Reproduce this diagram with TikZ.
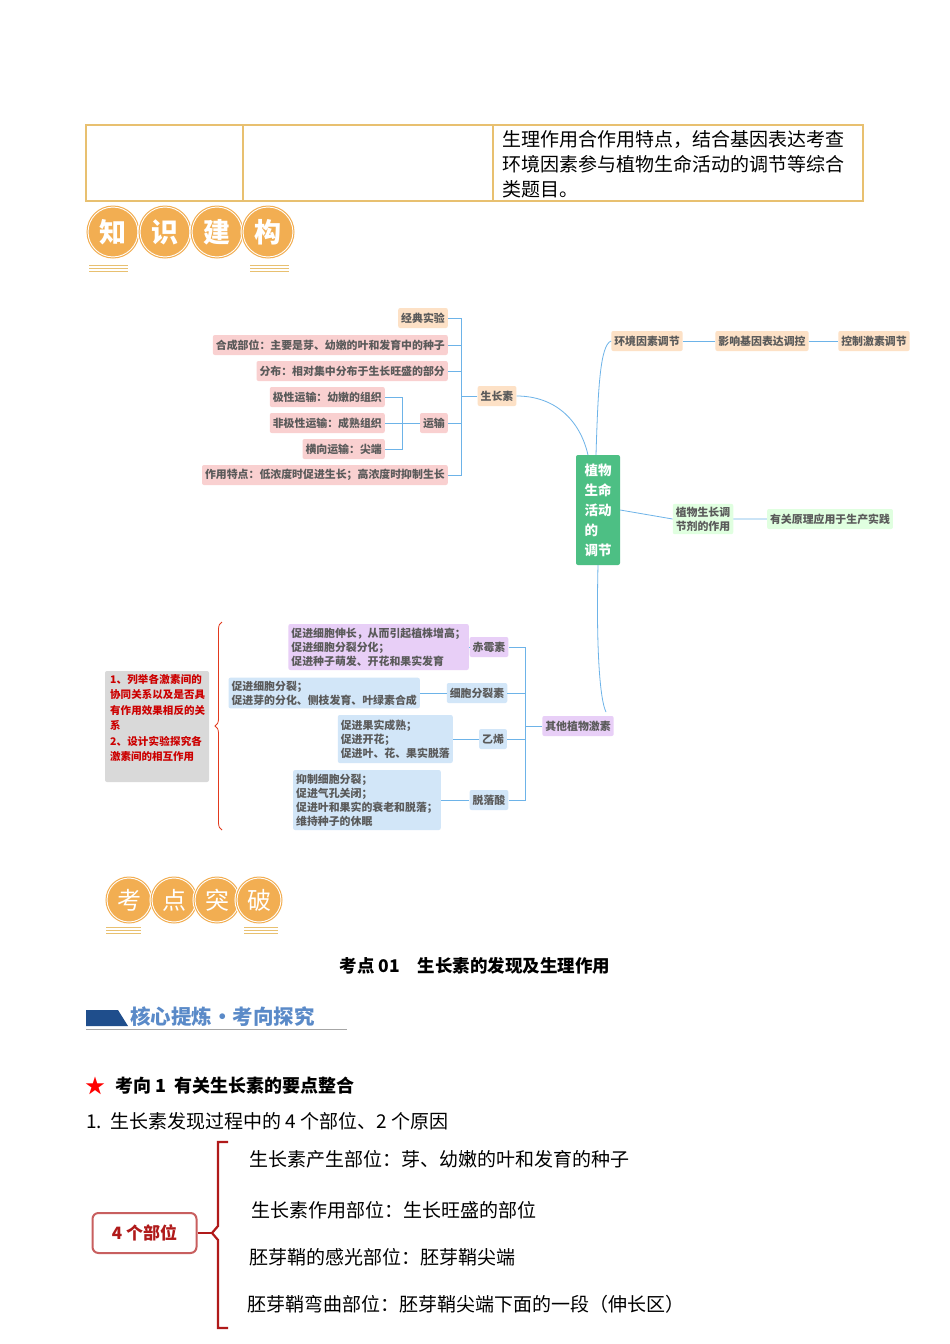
\documentclass[tikz,border=0pt]{standalone}
\usepackage{fontspec}
\setmainfont{Noto Sans CJK SC}
\XeTeXlinebreaklocale "zh"
\XeTeXlinebreakskip=0pt plus 1pt
\usetikzlibrary{decorations.pathreplacing}
\definecolor{peach}{HTML}{FDE1C6}
\definecolor{pinkb}{HTML}{F9D0D0}
\definecolor{greenb}{HTML}{4DBF84}
\definecolor{purp}{HTML}{E8CFF7}
\definecolor{blueb}{HTML}{D2E6F8}
\definecolor{lin}{HTML}{6DB3E8}
\definecolor{ntext}{HTML}{5A5A5A}
\definecolor{gold}{HTML}{E8C070}
\definecolor{orng}{HTML}{F2AE52}
\definecolor{dred}{HTML}{B01A1A}
\definecolor{bannerdk}{HTML}{1F4E8C}
\definecolor{bannertx}{HTML}{5A8AC8}
\tikzset{
 mm/.style={rounded corners=2pt,font=\fontsize{10.9}{14}\selectfont\bfseries,text=ntext,inner sep=3pt,minimum height=20pt},
 pe/.style={mm,fill=peach}, pk/.style={mm,fill=pinkb}, pu/.style={mm,fill=purp}, bl/.style={mm,fill=blueb},
 ln/.style={draw=lin,line width=0.8pt},
 coin/.style={circle,fill=orng,draw=white,double=orng,line width=1pt,double distance=1pt,text=white,inner sep=0pt},
 body/.style={font=\fontsize{19}{22}\selectfont,anchor=west,inner sep=0pt}
}
\begin{document}
\begin{tikzpicture}[x=1pt,y=-1pt]
\useasboundingbox[fill=white] (0,0) rectangle (950,1344);
% table
\draw[gold,line width=1.2pt] (86,125) rectangle (863,201);
\draw[gold,line width=1.2pt] (243,125) -- (243,201) (493,125) -- (493,201);
\node[body] (t1) at (502,140) {生理作用合作用特点，结合基因表达考查};
\node[body] (t2) at (502,164) {环境因素参与植物生命活动的调节等综合};
\node[body] (t3) at (502,189) {类题目。};
% coins 1
\foreach \c/\x [count=\i] in {知/113,识/165,建/217,构/268}{
 \node[coin,minimum size=52pt,font=\fontsize{27}{27}\selectfont\bfseries] (k\i) at (\x,232) {\c};}
\foreach \y in {265,268,271}{\draw[gold,line width=0.8pt] (89,\y) -- (128,\y) (250,\y) -- (289,\y);}
% mind map
\node[mm,fill=greenb,text=white,font=\fontsize{13.5}{20}\selectfont\bfseries,align=left,minimum width=44pt,minimum height=110pt] (root) at (598,510) {植物\\生命\\活动\\的\\调节};
\node[pe] (szs) at (497,396) {生长素};
\node[pe,anchor=east] (a1) at (448,318) {经典实验};
\node[pk,anchor=east] (a2) at (448,345) {合成部位：主要是芽、幼嫩的叶和发育中的种子};
\node[pk,anchor=east] (a3) at (448,371) {分布：相对集中分布于生长旺盛的部分};
\node[pk,anchor=east] (ys) at (448,423) {运输};
\node[pk,anchor=east] (a5) at (448,475) {作用特点：低浓度时促进生长；高浓度时抑制生长};
\node[pk,anchor=east] (b1) at (385,397) {极性运输：幼嫩的组织};
\node[pk,anchor=east] (b2) at (385,423) {非极性运输：成熟组织};
\node[pk,anchor=east] (b3) at (385,449) {横向运输：尖端};
\draw[ln] (szs.west) -- (461,396);
\draw[ln] (a1.east) -| (461,475) -- (a5.east);
\draw[ln] (a2.east) -- (461,345) (a3.east) -- (461,371) (ys.east) -- (461,423);
\draw[ln] (b1.east) -| (402,449) -- (b3.east);
\draw[ln] (b2.east) -- (ys.west);
\draw[ln] (szs.east) .. controls (555,396) and (580,420) .. (588,455);
\node[pe] (hj) at (647,341) {环境因素调节};
\node[pe] (yx) at (762,341) {影响基因表达调控};
\node[pe] (kz) at (874,341) {控制激素调节};
\draw[ln] (596,455) .. controls (598,390) and (600,345) .. (hj.west);
\draw[ln] (hj.east) -- (yx.west) (yx.east) -- (kz.west);
\node[mm,fill=green!12,align=left] (tj) at (703,519) {植物生长调\\节剂的作用};
\node[mm,fill=green!12] (yy) at (830,519) {有关原理应用于生产实践};
\draw[ln] (root.east) -- (tj.west) (tj.east) -- (yy.west);
\node[pu] (qt) at (578,726) {其他植物激素};
\draw[ln] (598,565) .. controls (596,650) and (600,700) .. (606,712);
\node[pu] (cm) at (489,647) {赤霉素};
\node[bl] (xb) at (477,693) {细胞分裂素};
\node[bl] (yx2) at (493,739) {乙烯};
\node[bl] (tl) at (489,800) {脱落酸};
\draw[ln] (qt.west) -- (525,726);
\draw[ln] (cm.east) -| (525,800) -- (tl.east);
\draw[ln] (xb.east) -- (525,693) (yx2.east) -- (525,739);
\node[pu,anchor=east,align=left,minimum height=46pt] (c1) at (469,647) {促进细胞伸长，从而引起植株增高；\\促进细胞分裂分化；\\促进种子萌发、开花和果实发育};
\node[bl,anchor=east,align=left,minimum height=30pt] (c2) at (420,693) {促进细胞分裂；\\促进芽的分化、侧枝发育、叶绿素合成};
\node[bl,anchor=east,align=left,minimum height=48pt] (c3) at (453,739) {促进果实成熟；\\促进开花；\\促进叶、花、果实脱落};
\node[bl,anchor=east,align=left,minimum height=60pt] (c4) at (441,800) {抑制细胞分裂；\\促进气孔关闭；\\促进叶和果实的衰老和脱落；\\维持种子的休眠};
\draw[ln] (c1.east) -- (cm.west) (c2.east) -- (xb.west) (c3.east) -- (yx2.west) (c4.east) -- (tl.west);
\node[rounded corners=2pt,fill=gray!30,minimum width=104pt,minimum height=111pt] (gb) at (157,726.5) {};
\node[text=red!80!black,align=left,anchor=north west,inner sep=0pt,text width=96pt,font=\fontsize{10.5}{15.5}\selectfont\bfseries] (gt) at (110,674) {1、列举各激素间的协同关系以及是否具有作用效果相反的关系\\2、设计实验探究各激素间的相互作用};
\draw[red!55!brown,line width=0.8pt,decorate,decoration={brace,amplitude=7pt}] (222,830) -- (222,622);
% coins 2
\foreach \c/\x [count=\i] in {考/129,点/174,突/217,破/259}{
 \node[coin,minimum size=46pt,font=\fontsize{24}{24}\selectfont] (p\i) at (\x,900) {\c};}
\foreach \y in {927,930,933}{\draw[gold,line width=0.8pt] (106,\y) -- (141,\y) (244,\y) -- (278,\y);}
\node[font=\fontsize{17.5}{20}\selectfont\bfseries] (kd) at (475,966) {考点 01\quad 生长素的发现及生理作用};
\fill[bannerdk] (86,1010) -- (118,1010) -- (128,1026) -- (86,1026) -- cycle;
\node[anchor=west,inner sep=0pt,text=bannertx,font=\fontsize{20.5}{22}\selectfont\bfseries] (hx) at (130,1017) {核心提炼·考向探究};
\draw[gray!70,line width=0.8pt] (86,1029) -- (347,1029);
\node[text=red,inner sep=0pt,font=\fontsize{20}{20}\selectfont] (st) at (95,1086) {★};
\node[body,font=\fontsize{18}{20}\selectfont\bfseries] (kx) at (115,1086) {考向 1\ \ 有关生长素的要点整合};
\node[body] (l1) at (86,1121) {1.\ \ 生长素发现过程中的 4 个部位、2 个原因};
\node[draw=dred!70,line width=2pt,rounded corners=6pt,text=dred,minimum width=104pt,minimum height=40pt,font=\fontsize{17}{20}\selectfont\bfseries] (bw) at (144.5,1233) {4 个部位};
\draw[dred,line width=2.2pt] (228,1142) -- (218,1142) -- (218,1226) -- (212,1233) -- (218,1240) -- (218,1328) -- (228,1328);
\draw[dred,line width=2.2pt] (bw.east) -- (212,1233);
\node[body] (r1) at (249,1159) {生长素产生部位：芽、幼嫩的叶和发育的种子};
\node[body] (r2) at (251,1210) {生长素作用部位：生长旺盛的部位};
\node[body] (r3) at (249,1257) {胚芽鞘的感光部位：胚芽鞘尖端};
\node[body] (r4) at (247,1304) {胚芽鞘弯曲部位：胚芽鞘尖端下面的一段（伸长区）};
\end{tikzpicture}
\end{document}
